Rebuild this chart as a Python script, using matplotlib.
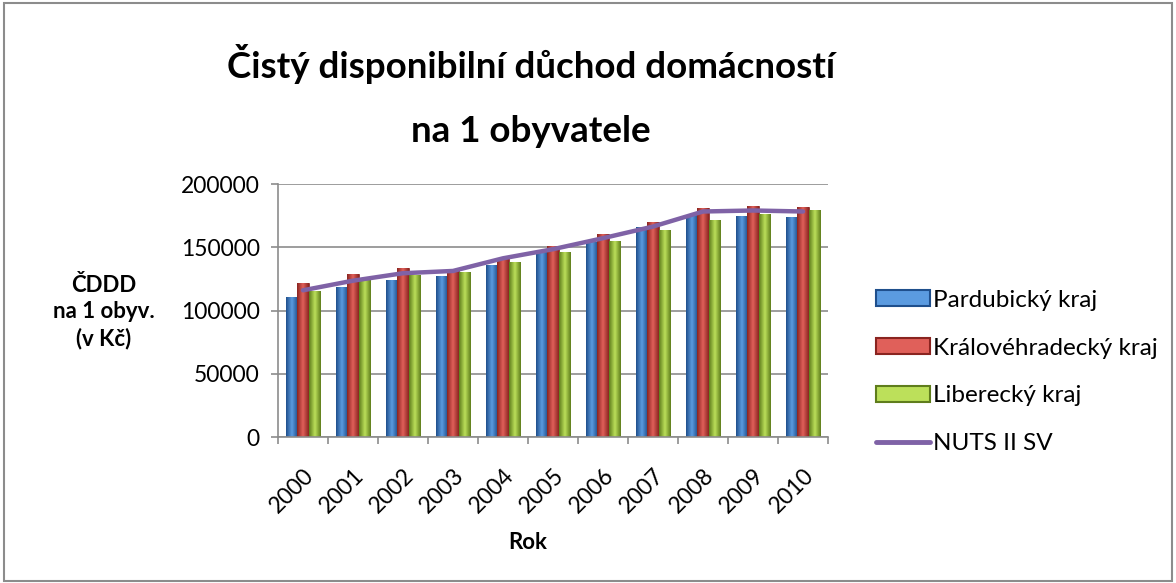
import numpy as np
import matplotlib.pyplot as plt
from matplotlib.patches import Rectangle
from matplotlib.lines import Line2D
from matplotlib.colors import LinearSegmentedColormap

plt.rcParams['font.family'] = ['Lato', 'DejaVu Sans']

years = ['2000', '2001', '2002', '2003', '2004', '2005', '2006', '2007', '2008', '2009', '2010']
pardubicky = [110900, 118400, 124200, 127300, 136000, 147900, 154500, 165900, 175700, 174900, 173900]
kralovehradecky = [121500, 128700, 133400, 133000, 141300, 151000, 160400, 169900, 181000, 182800, 181800]
liberecky = [115700, 124200, 128100, 130700, 138700, 146600, 155100, 163800, 171700, 176500, 179100]
nuts_sv = [116000, 123600, 129500, 131300, 141300, 148500, 157200, 166400, 178300, 179100, 178300]

names = ['Pardubický kraj', 'Královéhradecký kraj', 'Liberecký kraj', 'NUTS II SV']
cols = [('#1f4f8c', '#5b9be0'), ('#8a2420', '#e0605a'), ('#5f7d1c', '#bce05a')]

fig = plt.figure(figsize=(11.76, 5.83), dpi=100)
fig.patches.append(Rectangle((0.003, 0.004), 0.994, 0.99, transform=fig.transFigure,
                             fill=False, edgecolor='#8c8c8c', linewidth=1.5))

ax = fig.add_axes([0.2364, 0.2504, 0.4677, 0.4339])
x = np.arange(len(years))
w = 0.233
for i, (vals, (dk, lt)) in enumerate(zip([pardubicky, kralovehradecky, liberecky], cols)):
    bars = ax.bar(x + (i - 1) * w, vals, w, color=dk, edgecolor=dk, linewidth=0.5, zorder=2)
    cmap = LinearSegmentedColormap.from_list('g', [dk, lt, dk])
    grad = np.linspace(0, 1, 64).reshape(1, -1)
    for b in bars:
        bx, by = b.get_x(), b.get_y()
        im = ax.imshow(grad, cmap=cmap, aspect='auto', zorder=2.5,
                       extent=[bx, bx + b.get_width(), by, by + b.get_height()])
        im.set_clip_path(b)

ax.plot(x, nuts_sv, color='#7f62a6', linewidth=3.2, solid_capstyle='round', zorder=3)

ax.set_xlim(-0.5, len(years) - 0.5)
ax.set_ylim(0, 200000)
ax.set_yticks([0, 50000, 100000, 150000, 200000])
ax.set_yticklabels(['0', '50000', '100000', '150000', '200000'], fontsize=16.5)
ax.set_xticks(x)
ax.set_xticklabels(years, rotation=45, ha='right', rotation_mode='anchor', fontsize=16.5)
ax.set_xticks(np.arange(len(years) + 1) - 0.5, minor=True)
ax.tick_params(axis='x', which='major', length=0, pad=20)
ax.tick_params(axis='x', which='minor', length=5, color='#8c8c8c', width=1.2)
ax.tick_params(axis='y', length=5, color='#8c8c8c', width=1.2, pad=8)
ax.grid(axis='y', color='#8c8c8c', linewidth=1.2, zorder=0)
ax.set_axisbelow(True)
for s in ['top', 'right']:
    ax.spines[s].set_visible(False)
for s in ['left', 'bottom']:
    ax.spines[s].set_color('#8c8c8c')
    ax.spines[s].set_linewidth(1.2)

fig.text(0.4515, 0.835, 'Čistý disponibilní důchod domácností\nna 1 obyvatele',
         ha='center', va='center', fontsize=26.5, fontweight='bold', linespacing=2.15)
fig.text(0.0885, 0.465, 'ČDDD\nna 1 obyv.\n(v Kč)', ha='center', va='center',
         fontsize=16, fontweight='bold', linespacing=1.3)
fig.text(0.449, 0.07, 'Rok', ha='center', va='center', fontsize=16, fontweight='bold')

handles = [Rectangle((0, 0), 1, 1, facecolor=lt, edgecolor=dk, linewidth=1.5) for dk, lt in cols]
handles.append(Line2D([0], [0], color='#7f62a6', linewidth=3.5, solid_capstyle='round'))
fig.legend(handles, names, loc='center left', bbox_to_anchor=(0.745, 0.362), frameon=False,
           borderaxespad=0, borderpad=0, fontsize=17.5, handlelength=2.2, handleheight=0.62,
           labelspacing=1.1, handletextpad=0.15)

fig.savefig('out.png', dpi=100)
